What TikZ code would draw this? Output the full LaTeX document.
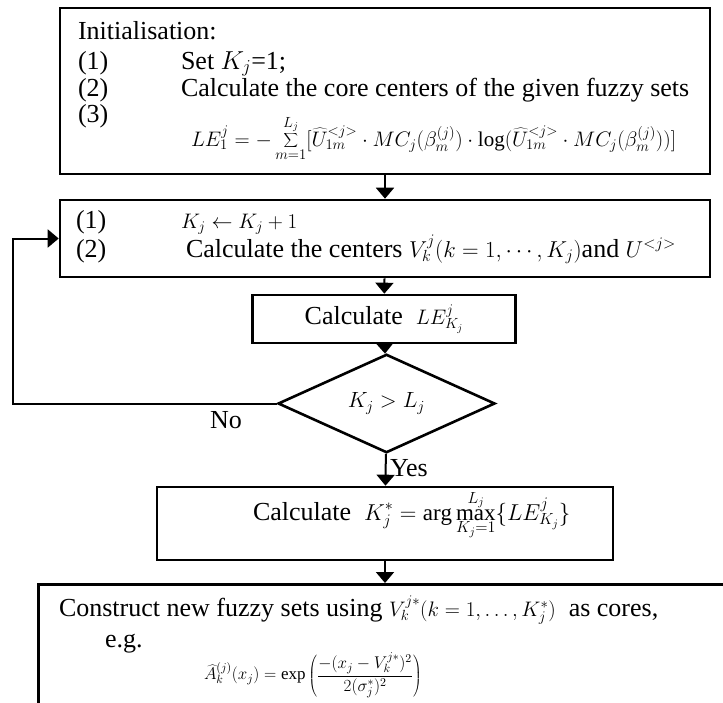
\RequirePackage{fix-cm}
\documentclass[tikz,border=0pt]{standalone}
\usepackage{fontspec}
\setmainfont{Liberation Serif}
\usetikzlibrary{arrows.meta,shapes.geometric}
\newcommand\mathsz{\fontsize{21}{21}\selectfont}
\newcommand\mathlg{\fontsize{23}{23}\selectfont}
\newcommand\mathsm{\fontsize{17}{17}\selectfont}

\begin{document}
\begin{tikzpicture}[x=1pt,y=-1pt,font=\fontsize{26}{29}\selectfont,line width=2pt,
  box/.style={draw,line width=2.6pt,inner sep=0pt},
  txt/.style={anchor=base west,inner sep=0pt},
  arr/.style={-{Triangle[width=18pt,length=11pt]}}]
  \useasboundingbox (0,0) rectangle (723,702);

  % boxes
  \node[box,minimum width=650pt,minimum height=166pt] (init) at (385,91) {};
  \node[box,minimum width=650pt,minimum height=77pt] (upd) at (385,238.5) {};
  \node[box,minimum width=263pt,minimum height=48pt] (calc) at (384,319)
    {Calculate\ \ {\mathsz$LE^{j}_{K_j}$}};
  \node[box,diamond,minimum width=217pt,minimum height=71pt,
    font=\fontsize{22}{22}\selectfont] (test) at (386.5,403.5) {$K_j > L_j$};
  \node[box,minimum width=456pt,minimum height=73pt] (best) at (385,523.5) {};
  \node[box,anchor=north west,minimum width=720pt,minimum height=150pt]
    (cons) at (37,583) {};

  % texts of the first box
  \node[txt] (ttl) at (77,39) {Initialisation:};
  \foreach \i/\y in {1/69,2/96,3/122}
    \node[txt] (num\i) at (77,\y) {(\i)};
  \node[txt] (setk) at (180,69) {Set $K_j$=1;};
  \node[txt] (core) at (180,96) {Calculate the core centers of the given fuzzy sets};
  \node[txt] (lefor) at (190,146) {\mathsz$\displaystyle LE_1^{j} = -\sum_{m=1}^{L_j}
    [\widehat{U}_{1m}^{<j>}\cdot MC_j(\beta_m^{(j)})\cdot
    \log(\widehat{U}_{1m}^{<j>}\cdot MC_j(\beta_m^{(j)}))]$};

  % texts of the second box
  \foreach \i/\y in {1/228,2/257}
    \node[txt] (step\i) at (75,\y) {(\i)};
  \node[txt] (incr) at (180,228) {\mathsz$K_j \leftarrow K_j + 1$};
  \node[txt] (cent) at (185,257)
    {Calculate the centers {\mathlg$V_k^{j}(k=1,\cdots,K_j)$}and {\mathlg$U^{<j>}$}};

  % best number of sets
  \node[txt] (kbest) at (252,520) {Calculate\ \ {\mathlg$\displaystyle K_j^{*} =
    \arg\max_{K_j=1}^{L_j}\Bigl\{LE^{j}_{K_j}\Bigr\}$}};

  % texts of the last box
  \node[txt] (newfs) at (58,616) {Construct new fuzzy sets using
    {\mathsz$V_k^{j*}(k=1,\ldots,K_j^{*})$}\ \ as cores,};
  \node[txt] (eg) at (104,647) {e.g.};
  \node[anchor=west,inner sep=0pt] (afor) at (203,675) {\mathsm$\displaystyle
    \widehat{A}_k^{(j)}(x_j) = \exp\left(\frac{-(x_j-V_k^{j*})^2}{2(\sigma_j^{*})^2}\right)$};

  % connectors
  \draw[arr] (init) -- (upd);
  \draw[arr] (upd) -- (calc);
  \draw[arr] (calc) -- (test);
  \draw[arr] (test) -- node[right,pos=0.45] (yes) {Yes} (best);
  \draw[arr] (best.south) -- (best.south |- cons.north);
  \draw[arr] (test.west) -- (13,403.5) -- (13,238.5) -- (upd.west);
  \node (no) at (226,420) {No};
\end{tikzpicture}
\end{document}
